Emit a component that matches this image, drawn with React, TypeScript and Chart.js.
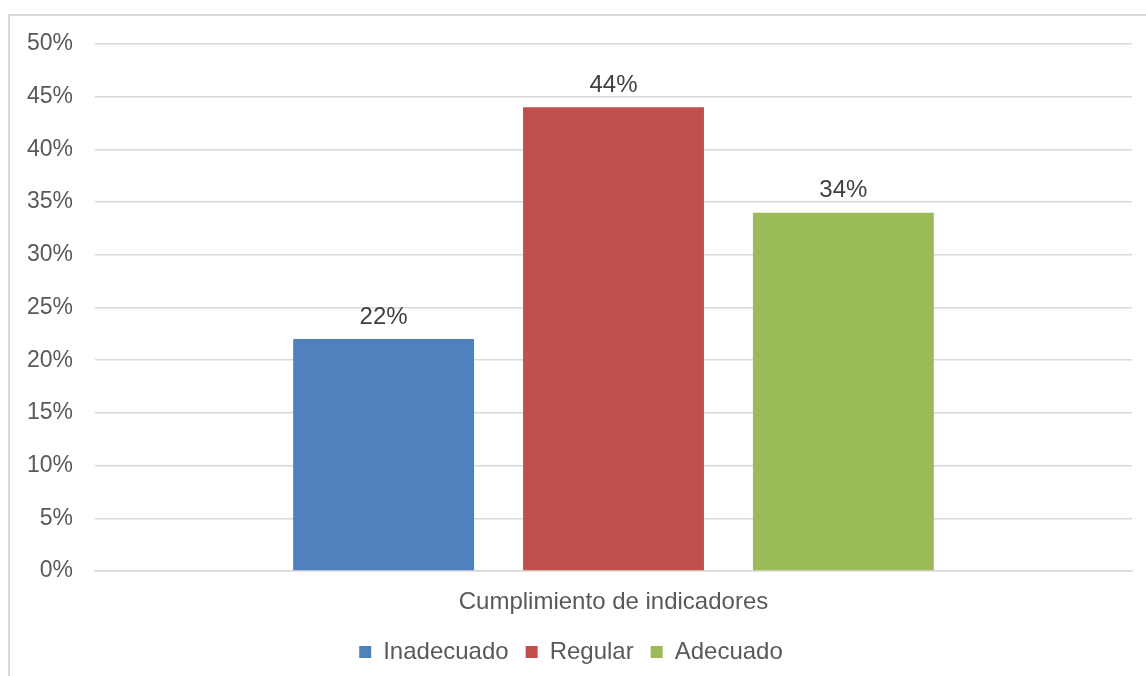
import React, { useEffect, useRef } from "react";
import { Chart, registerables } from "chart.js";

Chart.register(...registerables);

const categories = ["Cumplimiento de indicadores"];
const seriesNames = ["Inadecuado", "Regular", "Adecuado"];
const seriesValues = [[22], [44], [34]];
const seriesColors = ["#4F81BD", "#C0504D", "#9BBB59"];
const yMin = 0;
const yMax = 50;
const yStep = 5;

const FONT = "'Liberation Sans', Arial, sans-serif";

const dataLabelPlugin = {
  id: "dataLabels",
  afterDatasetsDraw(chart: any) {
    const ctx = chart.ctx;
    ctx.save();
    ctx.font = `24px ${FONT}`;
    ctx.fillStyle = "#404040";
    ctx.textAlign = "center";
    ctx.textBaseline = "middle";
    chart.data.datasets.forEach((ds: any, i: number) => {
      const meta = chart.getDatasetMeta(i);
      meta.data.forEach((bar: any, j: number) => {
        ctx.fillText(`${ds.data[j]}%`, bar.x, bar.y - 22);
      });
    });
    ctx.restore();
  },
};

export default function App() {
  const ref = useRef<HTMLCanvasElement | null>(null);
  useEffect(() => {
    if (!ref.current) return;
    const chart = new Chart(ref.current, {
      type: "bar",
      data: {
        labels: categories,
        datasets: seriesNames.map((name, i) => ({
          label: name,
          data: seriesValues[i],
          backgroundColor: seriesColors[i],
          borderWidth: 0,
          categoryPercentage: 0.665,
          barPercentage: 0.787,
        })),
      },
      options: {
        animation: false,
        responsive: true,
        maintainAspectRatio: false,
        layout: { padding: { top: 28, right: 14, left: 0, bottom: 2 } },
        plugins: {
          tooltip: { enabled: false },
          legend: {
            position: "bottom",
            labels: {
              boxWidth: 12,
              boxHeight: 12,
              padding: 17,
              color: "#595959",
              font: { family: FONT, size: 24 },
            },
          },
        },
        scales: {
          x: {
            grid: { display: false, drawTicks: false },
            border: { display: true, color: "#d9d9d9", width: 1.5 },
            ticks: {
              color: "#595959",
              padding: 17,
              font: { family: FONT, size: 24 },
            },
            afterFit: (scale: any) => {
              scale.height = 52;
            },
          },
          y: {
            min: yMin,
            max: yMax,
            grid: { color: "#d9d9d9", lineWidth: 1.5, drawTicks: false },
            border: { display: false },
            ticks: {
              stepSize: yStep,
              padding: 22,
              color: "#595959",
              font: { family: FONT, size: 23 },
              callback: (v: any) => `${v}%`,
            },
            afterFit: (scale: any) => {
              scale.width = 85;
              scale.paddingTop = 0;
              scale.paddingBottom = 0;
            },
          },
        },
      },
      plugins: [dataLabelPlugin],
    });
    return () => chart.destroy();
  }, []);
  return (
    <div
      style={{
        position: "fixed",
        left: 8,
        top: 14,
        width: 1138,
        height: 662,
        borderLeft: "2px solid #d9d9d9",
        borderTop: "2px solid #d9d9d9",
        background: "#fff",
      }}
    >
      <div style={{ position: "absolute", left: 0, top: 0, width: 1136, height: 660 }}>
        <canvas ref={ref} />
      </div>
    </div>
  );
}
